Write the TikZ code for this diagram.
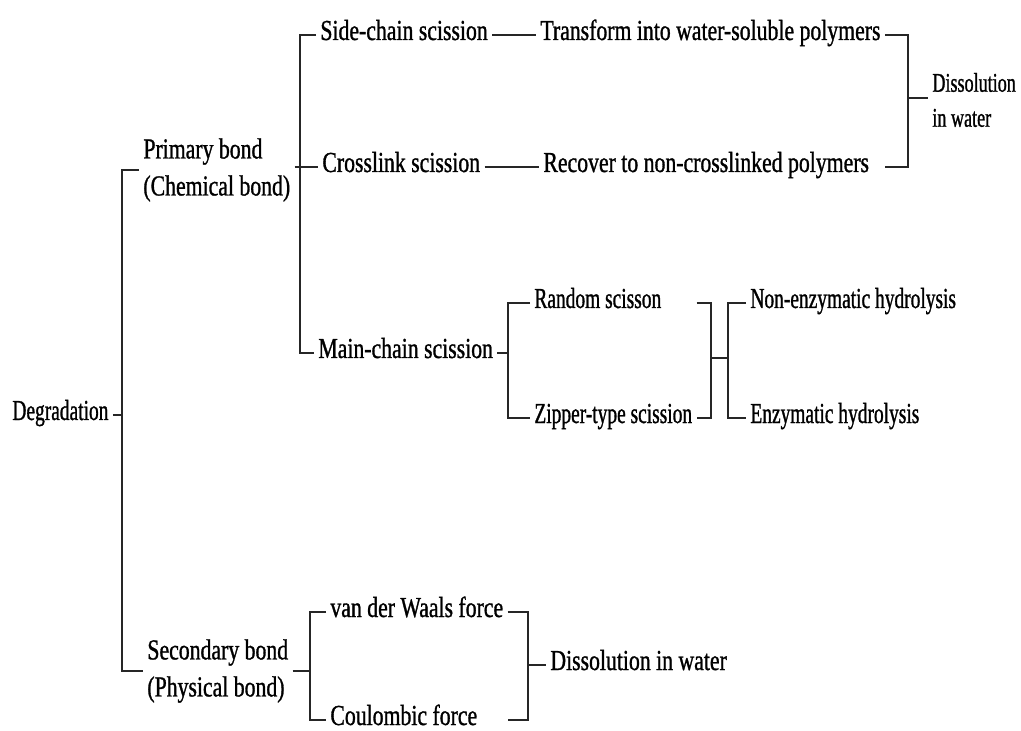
\documentclass[tikz,border=0pt]{standalone}
\usepackage{fontspec}
\setmainfont[FakeStretch=0.75,FakeBold=1]{Liberation Serif}
\newfontfamily\narrowserif[FakeStretch=0.67,FakeBold=1]{Liberation Serif}
\usetikzlibrary{positioning}

\begin{document}
\begin{tikzpicture}[
    x=0.5pt, y=-0.5pt,
    txt/.style={font=\fontsize{14.5}{18.5}\selectfont, anchor=west, inner xsep=2pt, inner ysep=0pt, text height=0.7em, text depth=0.2em},
    txtn/.style={txt, font=\narrowserif\fontsize{14.5}{18.5}\selectfont},
    twoline/.style={font=\fontsize{14.5}{18.5}\selectfont, anchor=west, align=left, inner xsep=2pt, inner ysep=0pt},
    link/.style={draw=black!85, line width=0.8pt}
]
\useasboundingbox (0,0) rectangle (1021,731);

% --- root and the two kinds of bond ---
\node[txtn] (degr) at (8,415) {Degradation};
\node[twoline] (prim) at (139,170) {Primary bond\\(Chemical bond)};
\node[twoline] (sec) at (143,671) {Secondary bond\\(Physical bond)};

% --- primary bond: what gets cut ---
\node[txt] (side) at (316,35) {Side-chain scission};
\node[txt] (cross) at (318,167) {Crosslink scission};
\node[txt] (main) at (314,353) {Main-chain scission};
\node[txt] (trans) at (536,35) {Transform into water-soluble polymers};
\node[txt] (rec) at (539,167) {Recover to non-crosslinked polymers};
\node[twoline, font=\narrowserif\fontsize{13.5}{17.5}\selectfont] (diss1) at (928,100) {Dissolution\\in water};

% --- main-chain scission and hydrolysis ---
\node[txtn] (rand) at (530,303) {Random scisson};
\node[txtn] (zip) at (530,418) {Zipper-type scission};
\node[txtn] (nonenz) at (746,303) {Non-enzymatic hydrolysis};
\node[txtn] (enz) at (746,418) {Enzymatic hydrolysis};

% --- secondary bond: the forces ---
\node[txt] (vdw) at (326,612) {van der Waals force};
\node[txt] (coul) at (326,720) {Coulombic force};
\node[txt] (diss2) at (546,665) {Dissolution in water};

% --- junctions of the brackets ---
\coordinate (jdeg) at (122,415);
\coordinate (jprim) at (300,167);
\coordinate (jdiss) at (908,98);
\coordinate (jmain) at (508,353);
\coordinate (jscis) at (711,358);
\coordinate (jhyd) at (728,358);
\coordinate (jsec) at (310,671);
\coordinate (jforce) at (528,665);

% --- connectors ---
\draw[link] (degr) -- (jdeg);
\draw[link] (prim.west) -| (jdeg) |- (sec.west);
\draw[link] (prim.east |- cross.west) -- (cross.west);
\draw[link] (side.west) -| (jprim) |- (main.west);
\draw[link] (side) -- (trans);
\draw[link] (cross) -- (rec);
\draw[link] (trans.east) -| (jdiss) |- (rec.east -| trans.east);
\draw[link] (jdiss) -- (diss1.west |- jdiss);
\draw[link] (main) -- (jmain);
\draw[link] (rand.west) -| (jmain) |- (zip.west);
\draw[link] (rand.east -| zip.east) -| (jscis) |- (zip.east);
\draw[link] (jscis) -- (jhyd);
\draw[link] (nonenz.west) -| (jhyd) |- (enz.west);
\draw[link] (sec.east) -- (jsec);
\draw[link] (vdw.west) -| (jsec) |- (coul.west);
\draw[link] (vdw.east) -| (jforce) |- (coul.east -| vdw.east);
\draw[link] (jforce) -- (diss2.west);

\end{tikzpicture}
\end{document}
